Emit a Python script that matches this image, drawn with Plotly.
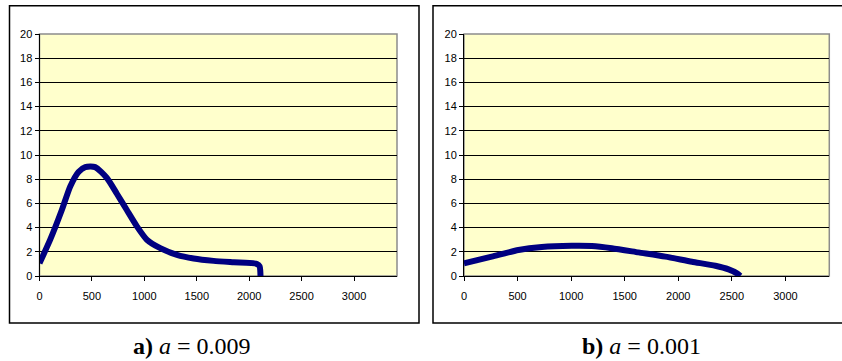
import plotly.graph_objects as go

# Panel a) a = 0.009
xa = [0, 102, 213, 293, 372, 436, 531, 643, 738, 833, 929, 1024, 1152, 1311, 1470, 1661, 1852, 2074, 2100, 2106, 2108]
ya = [1.05, 3.0, 5.45, 7.4, 8.6, 9.0, 9.0, 8.1, 6.8, 5.45, 4.1, 3.0, 2.3, 1.75, 1.45, 1.25, 1.13, 1.0, 0.8, 0.4, 0.0]

# Panel b) a = 0.001
xb = [0, 259, 508, 726, 1006, 1193, 1380, 1629, 1879, 2128, 2346, 2470, 2548, 2580]
yb = [1.05, 1.6, 2.15, 2.4, 2.5, 2.48, 2.3, 1.95, 1.6, 1.18, 0.85, 0.55, 0.22, 0.0]

x_ticks = [0, 500, 1000, 1500, 2000, 2500, 3000]
y_ticks = [0, 2, 4, 6, 8, 10, 12, 14, 16, 18, 20]
captions = ["<b>a)</b> <i>a</i> = 0.009", "<b>b)</b> <i>a</i> = 0.001"]

W, H = 842, 361
NAVY = "#000080"
tickfont = dict(family="Liberation Sans Narrow, Arial Narrow, Liberation Sans, Arial", size=11, color="#000000")

fig = go.Figure()
fig.add_trace(go.Scatter(x=xa, y=ya, mode="lines", line=dict(color=NAVY, width=6, shape="spline", smoothing=0.6),
                         cliponaxis=False, xaxis="x", yaxis="y", showlegend=False))
fig.add_trace(go.Scatter(x=xb, y=yb, mode="lines", line=dict(color=NAVY, width=6, shape="spline", smoothing=0.6),
                         cliponaxis=False, xaxis="x2", yaxis="y2", showlegend=False))

def px_x(a, b):
    return [a / W, b / W]

def px_y(top, bottom):
    return [(H - bottom) / H, (H - top) / H]

xd1 = px_x(39.5, 397)
xd2 = px_x(464, 829.3)
yd = px_y(34, 276)

def xaxis(domain, anchor):
    return dict(domain=domain, anchor=anchor, range=[0, 3410], tickvals=x_ticks,
                ticktext=[str(v) for v in x_ticks], ticks="outside", ticklen=4, tickcolor="#000",
                showline=True, linecolor="#000", linewidth=1, showgrid=False, zeroline=False,
                tickfont=tickfont, fixedrange=True, automargin=False, ticklabelstandoff=6)

def yaxis(anchor):
    return dict(domain=yd, anchor=anchor, range=[0, 20], tickvals=y_ticks,
                ticktext=[str(v) for v in y_ticks], ticks="outside", ticklen=4, tickcolor="#000",
                showline=True, linecolor="#000", linewidth=1, showgrid=True, gridcolor="#000",
                gridwidth=1, zeroline=False, tickfont=tickfont, fixedrange=True, automargin=False)

shapes = []
for xd in (xd1, xd2):
    shapes.append(dict(type="rect", xref="paper", yref="paper", x0=xd[0], x1=xd[1], y0=yd[0], y1=yd[1],
                       fillcolor="#FFFFCC", line=dict(color="#8c8c8c", width=1.5), layer="below"))
for (l, r) in ((9.5, 419), (433, 850)):
    shapes.append(dict(type="rect", xref="paper", yref="paper", x0=l / W, x1=r / W,
                       y0=(H - 323) / H, y1=(H - 5.7) / H, line=dict(color="#000", width=1.5),
                       fillcolor="rgba(0,0,0,0)", layer="below"))

annotations = []
for cx, txt in ((192, captions[0]), (641, captions[1])):
    annotations.append(dict(x=cx / W, y=(H - 345.5) / H, xref="paper", yref="paper", text=txt,
                            showarrow=False, xanchor="center", yanchor="middle",
                            font=dict(family="Liberation Serif, Times New Roman, serif", size=24, color="#000")))

fig.update_layout(
    template="none",
    width=W, height=H, margin=dict(l=0, r=0, t=0, b=0, pad=0, autoexpand=False),
    paper_bgcolor="#ffffff", plot_bgcolor="rgba(0,0,0,0)",
    xaxis=xaxis(xd1, "y"), yaxis=yaxis("x"),
    xaxis2=xaxis(xd2, "y2"), yaxis2=yaxis("x2"),
    shapes=shapes, annotations=annotations, showlegend=False,
)

fig.write_html("out.html", config={"displayModeBar": False},
               post_script="document.body.style.margin='0';document.body.style.overflow='hidden';")
